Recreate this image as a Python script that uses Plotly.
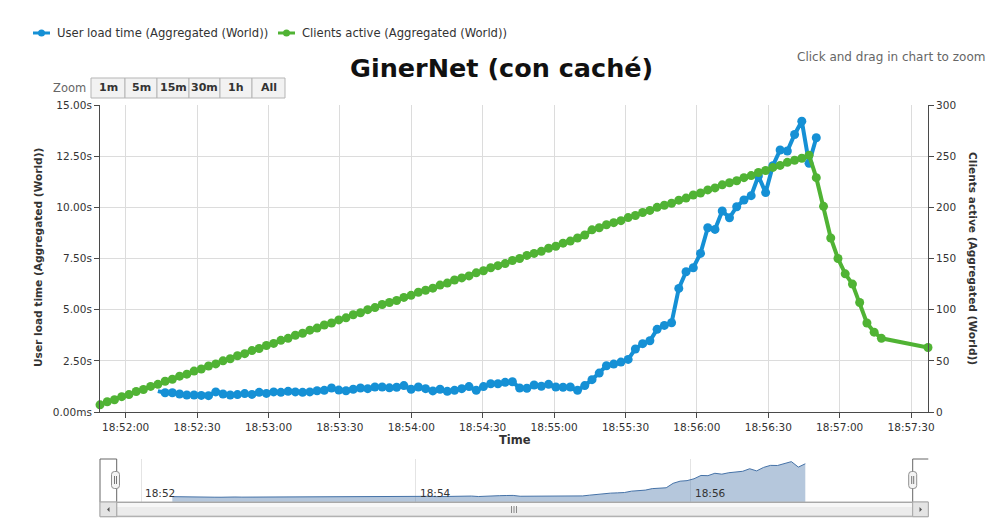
import pandas as pd
import plotly.graph_objects as go

# ---------------- data ----------------
title_text = "GinerNet (con caché)"
series_names = ["User load time (Aggregated (World))", "Clients active (Aggregated (World))"]
x_axis_title = "Time"

sample_start = "2013-05-20 18:51:49.200"
sample_step_ms = 3040
last_sample = "2013-05-20 18:57:37.100"

clients_active = [
    7, 10, 12, 15, 17, 20, 22, 25, 27, 30,
    32, 35, 37, 40, 42, 45, 47, 50, 52, 55,
    57, 60, 62, 65, 67, 70, 72, 75, 77, 80,
    82, 85, 87, 90, 92, 95, 97, 100, 102, 105,
    107, 109, 112, 114, 117, 119, 121, 124, 126, 129,
    131, 133, 136, 138, 141, 143, 145, 148, 150, 153,
    155, 157, 160, 162, 165, 167, 170, 173, 178, 180,
    183, 185, 187, 190, 192, 195, 197, 200, 202, 204,
    207, 209, 212, 214, 217, 219, 222, 224, 226, 229,
    231, 234, 236, 239, 241, 244, 246, 248, 251,
    229, 201, 170, 150, 135, 125, 107, 87, 78, 72,
    63,
]

load_time_first_sample = 8
user_load_time_s = [
    1.02,
    0.94, 0.94, 0.88, 0.83, 0.83, 0.81, 0.80, 0.98, 0.88, 0.83,
    0.85, 0.90, 0.86, 0.96, 0.91, 0.98, 0.96, 1.01, 0.98, 0.96,
    0.98, 1.04, 1.06, 1.17, 1.07, 1.04, 1.11, 1.17, 1.14, 1.22,
    1.22, 1.18,
    1.21, 1.29, 1.11, 1.22, 1.14, 1.03, 1.11, 1.01, 1.06, 1.14,
    1.24, 1.06, 1.24, 1.38, 1.38, 1.45, 1.48, 1.17, 1.16, 1.32,
    1.26, 1.35, 1.22, 1.21, 1.22, 1.06, 1.29, 1.58, 1.90, 2.26,
    2.34, 2.44, 2.57, 3.08, 3.34, 3.48, 4.04, 4.23, 4.36, 6.04,
    6.85, 7.05, 7.75, 9.00, 8.92, 9.82, 9.49, 10.03, 10.36, 10.57,
    11.53, 10.72, 12.03, 12.80, 12.75, 13.56, 14.21, 12.15, 13.40,
]

left_tick_values = [0, 2.5, 5, 7.5, 10, 12.5, 15]
left_tick_labels = ["0.00ms", "2.50s", "5.00s", "7.50s", "10.00s", "12.50s", "15.00s"]
right_tick_values = [0, 50, 100, 150, 200, 250, 300]
x_tick_start = "2013-05-20 18:52:00"
nav_tick_times = ["2013-05-20 18:52:00", "2013-05-20 18:54:00", "2013-05-20 18:56:00"]
nav_tick_labels = ["18:52", "18:54", "18:56"]
zoom_buttons = ["1m", "5m", "15m", "30m", "1h", "All"]

# ---------------- helpers ----------------
W, H = 994, 530
def px(x):
    return x / W
def py(y):
    return 1 - y / H

BLUE = "#1590d5"
GREEN = "#50b334"
FONT = "DejaVu Sans"
TXT = "#333333"

times = list(pd.date_range(sample_start, periods=len(clients_active) - 1,
                           freq=f"{sample_step_ms}ms")) + [pd.Timestamp(last_sample)]
load_times = times[load_time_first_sample:load_time_first_sample + len(user_load_time_s)]
x_range = [times[0], times[-1]]

fig = go.Figure()

# main series: blue line, blue markers (first sample has no visible marker), then green
fig.add_trace(go.Scatter(
    x=load_times, y=user_load_time_s, name=series_names[0], mode="lines",
    line=dict(color=BLUE, width=4),
    xaxis="x", yaxis="y", cliponaxis=False, showlegend=False, hoverinfo="skip"))
fig.add_trace(go.Scatter(
    x=load_times[1:], y=user_load_time_s[1:], mode="markers",
    marker=dict(color=BLUE, size=9, opacity=1, line=dict(width=0)),
    xaxis="x", yaxis="y", cliponaxis=False, showlegend=False, hoverinfo="skip"))
fig.add_trace(go.Scatter(
    x=times, y=clients_active, name=series_names[1], mode="lines+markers",
    line=dict(color=GREEN, width=4), marker=dict(color=GREEN, size=9, opacity=1, line=dict(width=0)),
    xaxis="x", yaxis="y2", cliponaxis=False, showlegend=False, hoverinfo="skip"))

# navigator
nav_floor = -1.0
fig.add_trace(go.Scatter(
    x=load_times, y=[nav_floor] * len(load_times), mode="lines",
    line=dict(width=0, color="rgba(0,0,0,0)"), xaxis="x2", yaxis="y3",
    showlegend=False, hoverinfo="skip"))
fig.add_trace(go.Scatter(
    x=load_times, y=user_load_time_s, mode="lines", fill="tonexty",
    line=dict(color="#4572a7", width=1), fillcolor="rgba(69,114,167,0.4)",
    xaxis="x2", yaxis="y3", showlegend=False, hoverinfo="skip"))

grid = "#dcdcdc"
axis_line = "#4a4a4a"
tick_font = dict(family=FONT, size=10.5, color="#333333")

fig.update_layout(
    template="none",
    width=W, height=H, autosize=False, margin=dict(l=0, r=0, t=0, b=0, pad=0),
    paper_bgcolor="white", plot_bgcolor="white", showlegend=False,
    font=dict(family=FONT, size=11, color=TXT),
    xaxis=dict(type="date", domain=[px(100), px(928)], range=x_range, anchor="y",
               tickformat="%H:%M:%S", tick0=x_tick_start, dtick=30000,
               showgrid=True, gridcolor=grid, gridwidth=1,
               ticks="outside", ticklen=5, tickcolor=axis_line,
               showline=True, linecolor=axis_line, linewidth=1,
               zeroline=False, tickfont=tick_font, fixedrange=True, automargin=False),
    yaxis=dict(domain=[py(412), py(105)], range=[0, 15], anchor="x",
               tickvals=left_tick_values, ticktext=left_tick_labels,
               showgrid=True, gridcolor=grid, gridwidth=1,
               ticks="outside", ticklen=5, tickcolor=axis_line,
               showline=True, linecolor=axis_line, linewidth=1,
               zeroline=False, tickfont=tick_font, fixedrange=True, automargin=False),
    yaxis2=dict(overlaying="y", side="right", range=[0, 300], anchor="x",
                tickvals=right_tick_values, showgrid=False,
                ticks="outside", ticklen=5, tickcolor=axis_line,
                showline=True, linecolor=axis_line, linewidth=1,
                zeroline=False, tickfont=tick_font, fixedrange=True, automargin=False),
    xaxis2=dict(type="date", domain=[px(116.7), px(912.7)], range=x_range, anchor="y3",
                tickvals=nav_tick_times, showticklabels=False, ticks="",
                showgrid=True, gridcolor="#e4e4e4", showline=False,
                zeroline=False, fixedrange=True, automargin=False),
    yaxis3=dict(domain=[py(502), py(459)], range=[nav_floor, 15.2], anchor="x2",
                visible=False, fixedrange=True, automargin=False),
)

annotations = []
shapes = []

# title
annotations.append(dict(text=f"<b>{title_text}</b>", x=px(501), y=py(68), xref="paper", yref="paper",
                        showarrow=False, xanchor="center", yanchor="middle",
                        font=dict(family=FONT, size=25.5, color="#111111")))
# zoom hint
annotations.append(dict(text="Click and drag in chart to zoom", x=px(987), y=py(57), xref="paper",
                        yref="paper", showarrow=False, xanchor="right", yanchor="middle",
                        font=dict(family=FONT, size=12, color="#666666")))
# axis titles
annotations.append(dict(text=f"<b>{series_names[0]}</b>", x=px(38), y=py(258), xref="paper", yref="paper",
                        showarrow=False, textangle=-90, xanchor="center", yanchor="middle",
                        font=dict(family=FONT, size=10.6, color=TXT)))
annotations.append(dict(text=f"<b>{series_names[1]}</b>", x=px(973), y=py(258), xref="paper", yref="paper",
                        showarrow=False, textangle=90, xanchor="center", yanchor="middle",
                        font=dict(family=FONT, size=10.6, color=TXT)))
annotations.append(dict(text=f"<b>{x_axis_title}</b>", x=px(515), y=py(440), xref="paper", yref="paper",
                        showarrow=False, xanchor="center", yanchor="middle",
                        font=dict(family=FONT, size=11.5, color=TXT)))

# legend (manual)
legend_items = [(33, series_names[0], BLUE), (278, series_names[1], GREEN)]
for lx, name, col in legend_items:
    shapes.append(dict(type="line", xref="paper", yref="paper", x0=px(lx), x1=px(lx + 17),
                       y0=py(33), y1=py(33), line=dict(color=col, width=3)))
    shapes.append(dict(type="circle", xref="paper", yref="paper", x0=px(lx + 5), x1=px(lx + 12),
                       y0=py(36.5), y1=py(29.5), fillcolor=col, line=dict(color=col, width=0)))
    annotations.append(dict(text=name, x=px(lx + 22), y=py(33), xref="paper", yref="paper",
                            showarrow=False, xanchor="left", yanchor="middle",
                            font=dict(family=FONT, size=11.6, color=TXT)))

# zoom buttons
annotations.append(dict(text="Zoom", x=px(88), y=py(88), xref="paper", yref="paper", showarrow=False,
                        xanchor="right", yanchor="middle", font=dict(family=FONT, size=11.5, color="#666666")))
btn_edges = [91, 125, 157, 189, 220, 252, 285]
for k, lab in enumerate(zoom_buttons):
    x0, x1 = btn_edges[k], btn_edges[k + 1]
    shapes.append(dict(type="rect", xref="paper", yref="paper", x0=px(x0), x1=px(x1),
                       y0=py(98), y1=py(78), fillcolor="#f2f2f2", line=dict(color="#b5b5b5", width=1)))
    annotations.append(dict(text=f"<b>{lab}</b>", x=px((x0 + x1) / 2), y=py(88), xref="paper", yref="paper",
                            showarrow=False, xanchor="center", yanchor="middle",
                            font=dict(family=FONT, size=11, color="#333333")))

# navigator labels
for t, lab in zip(nav_tick_times, nav_tick_labels):
    annotations.append(dict(text=lab, x=t, xref="x2", y=py(493), yref="paper", showarrow=False,
                            xanchor="left", yanchor="middle", xshift=2,
                            font=dict(family=FONT, size=10.5, color="#333333")))

def P(pts):
    return "M " + " L ".join(f"{px(a)},{py(b)}" for a, b in pts)

nav_line = dict(color="#666666", width=1)
shapes.append(dict(type="path", xref="paper", yref="paper",
                   path=P([(100, 502), (100, 459), (116.7, 459), (116.7, 502)]), line=nav_line))
shapes.append(dict(type="path", xref="paper", yref="paper",
                   path=P([(912.7, 502), (912.7, 459), (928.3, 459)]), line=nav_line))

# scrollbar
shapes.append(dict(type="rect", xref="paper", yref="paper", x0=px(100), x1=px(928.3), y0=py(516.7), y1=py(502),
                   fillcolor="#e9e9e9", line=dict(color="#b0b0b0", width=1)))
shapes.append(dict(type="rect", xref="paper", yref="paper", x0=px(116.7), x1=px(912.7), y0=py(516.2), y1=py(502.5),
                   fillcolor="#ececec", line=dict(color="#a8a8a8", width=1)))
shapes.append(dict(type="rect", xref="paper", yref="paper", x0=px(117.5), x1=px(912), y0=py(507), y1=py(503),
                   fillcolor="#f7f7f7", line=dict(width=0)))
for bx0, bx1 in [(100, 116.7), (912.7, 928.3)]:
    shapes.append(dict(type="rect", xref="paper", yref="paper", x0=px(bx0), x1=px(bx1), y0=py(516.7), y1=py(502),
                       fillcolor="#e4e4e4", line=dict(color="#a8a8a8", width=1)))
shapes.append(dict(type="path", xref="paper", yref="paper",
                   path=P([(109.5, 507), (109.5, 512), (107, 509.5)]) + " Z",
                   fillcolor="#555555", line=dict(width=0)))
shapes.append(dict(type="path", xref="paper", yref="paper",
                   path=P([(919.5, 507), (919.5, 512), (922, 509.5)]) + " Z",
                   fillcolor="#555555", line=dict(width=0)))
for gx in [511.5, 514, 516.5]:
    shapes.append(dict(type="line", xref="paper", yref="paper", x0=px(gx), x1=px(gx), y0=py(506), y1=py(513),
                       line=dict(color="#8a8a8a", width=1)))

# navigator handles
def handle(cx):
    x0, x1, y0, y1, r = cx - 4, cx + 4, 471.5, 488.5, 3
    path = (f"M {px(x0 + r)},{py(y0)} L {px(x1 - r)},{py(y0)} Q {px(x1)},{py(y0)} {px(x1)},{py(y0 + r)} "
            f"L {px(x1)},{py(y1 - r)} Q {px(x1)},{py(y1)} {px(x1 - r)},{py(y1)} "
            f"L {px(x0 + r)},{py(y1)} Q {px(x0)},{py(y1)} {px(x0)},{py(y1 - r)} "
            f"L {px(x0)},{py(y0 + r)} Q {px(x0)},{py(y0)} {px(x0 + r)},{py(y0)} Z")
    shapes.append(dict(type="path", xref="paper", yref="paper", path=path,
                       fillcolor="#f4f4f4", line=dict(color="#8f8f8f", width=1)))
    for dx in (-1, 1):
        shapes.append(dict(type="line", xref="paper", yref="paper", x0=px(cx + dx), x1=px(cx + dx),
                           y0=py(476), y1=py(484), line=dict(color="#777777", width=1)))

handle(115.5)
handle(912.7)

fig.update_layout(annotations=annotations, shapes=shapes)
fig.write_html("out.html", config={"displayModeBar": False},
               post_script="document.body.style.margin='0';document.body.style.padding='0';"
                           "document.body.style.overflow='hidden';")
